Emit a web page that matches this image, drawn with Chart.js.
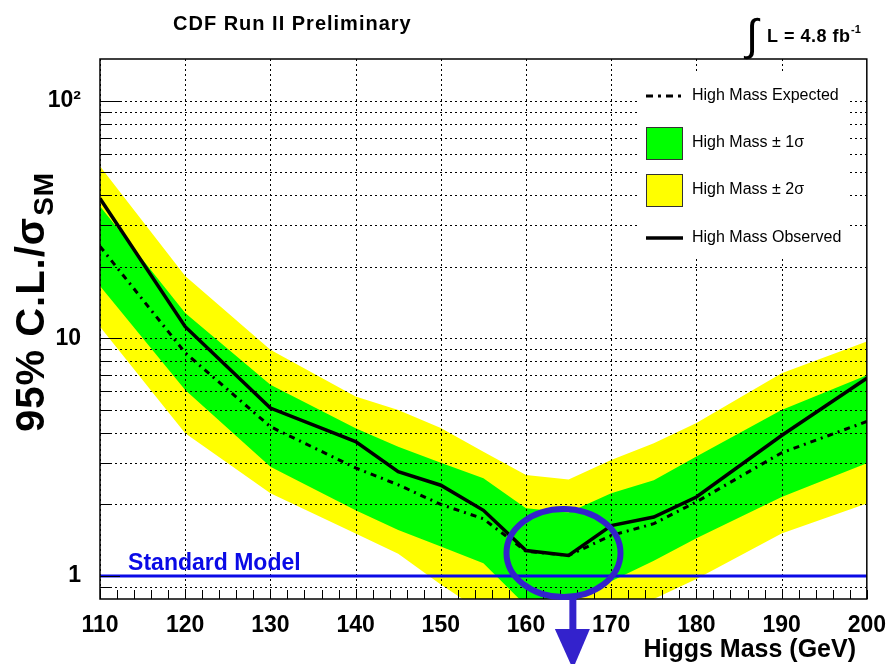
<!DOCTYPE html>
<html>
<head>
<meta charset="utf-8">
<title>CDF Run II Preliminary</title>
<script src="https://cdn.jsdelivr.net/npm/chart.js@4.4.0/dist/chart.umd.min.js"></script>
<style>
    body { margin: 0; background: #ffffff; }
    #wrap { width: 891px; height: 664px; position: relative; }
</style>
</head>
<body>
<div id="wrap"><canvas id="limitChart"></canvas></div>
<script>
// Higgs mass points (GeV) and 95% C.L. limits / sigma_SM
var masses   = [110, 120, 130, 140, 145, 150, 155, 160, 165, 170, 175, 180, 190, 200];
var observed = [38.8, 11.2, 5.09, 3.68, 2.75, 2.41, 1.89, 1.28, 1.22, 1.63, 1.77, 2.15, 3.9, 6.8];
var expected = [24.4, 8.7, 4.25, 2.85, 2.42, 2.0, 1.74, 1.27, 1.22, 1.48, 1.66, 2.05, 3.3, 4.47];
var plus1    = [36, 12.8, 6.38, 4.19, 3.5, 3.0, 2.58, 1.93, 1.85, 2.23, 2.53, 3.18, 5.0, 7.0];
var minus1   = [16.6, 6.07, 2.88, 1.89, 1.56, 1.33, 1.13, 0.75, 0.8, 0.95, 1.16, 1.44, 2.15, 2.98];
var plus2    = [53, 18.3, 8.96, 5.69, 5.0, 4.2, 3.33, 2.66, 2.55, 3.08, 3.62, 4.4, 7.14, 9.71];
var minus2   = [11.2, 3.99, 2.23, 1.51, 1.24, 0.92, 0.7, 0.55, 0.55, 0.65, 0.8, 0.97, 1.51, 2.02];

var smLevel = 1;
var xTicks = [110, 120, 130, 140, 150, 160, 170, 180, 190, 200];
var xMinorStep = 2;
var yGrid = [0.9, 1, 2, 3, 4, 5, 6, 7, 8, 9, 10, 20, 30, 40, 50, 60, 70, 80, 90, 100];
var yLabels = { 1: "1", 10: "10", 100: "10\u00b2" };
var legendText = ["High Mass Expected", "High Mass \u00b1 1\u03c3", "High Mass \u00b1 2\u03c3", "High Mass Observed"];

// circled region around the minimum, in data units
var circleMass = 164.4, circleLimit = 1.25;
var arrowMass = 165.5;

var FONT = "'Liberation Sans', Arial, Helvetica, sans-serif";
var GREEN = "#00ff00", YELLOW = "#ffff00";
var SM_BLUE = "#0a0ae6", MARK_BLUE = "#3322cc";

function pts(arr) {
    return masses.map(function (m, i) { return { x: m, y: arr[i] }; });
}

function band(arr, color, fill, order) {
    return {
        data: pts(arr),
        borderWidth: 0,
        borderColor: "rgba(0,0,0,0)",
        backgroundColor: color,
        pointRadius: 0,
        tension: 0,
        fill: fill,
        order: order
    };
}

var rootDecor = {
    id: "rootDecor",
    // grid goes over the bands but under the curves
    beforeDatasetDraw: function (chart, args) {
        if (args.index !== 1) return;
        var ctx = chart.ctx, a = chart.chartArea;
        var xs = chart.scales.x, ys = chart.scales.y;
        ctx.save();
        ctx.beginPath();
        ctx.rect(a.left, a.top, a.right - a.left, a.bottom - a.top);
        ctx.clip();
        ctx.strokeStyle = "#000";
        ctx.lineWidth = 1;
        ctx.setLineDash([2, 3]);
        xTicks.forEach(function (m) {
            var px = Math.round(xs.getPixelForValue(m)) + 0.5;
            ctx.beginPath(); ctx.moveTo(px, a.top); ctx.lineTo(px, a.bottom); ctx.stroke();
        });
        yGrid.forEach(function (v) {
            var py = Math.round(ys.getPixelForValue(v)) + 0.5;
            ctx.beginPath(); ctx.moveTo(a.left, py); ctx.lineTo(a.right, py); ctx.stroke();
        });
        ctx.restore();
    },
    afterDatasetsDraw: function (chart) {
        var ctx = chart.ctx, a = chart.chartArea;
        var xs = chart.scales.x, ys = chart.scales.y;
        ctx.save();

        // Standard Model label
        ctx.fillStyle = SM_BLUE;
        ctx.font = "bold 23px " + FONT;
        ctx.textBaseline = "alphabetic";
        ctx.textAlign = "left";
        ctx.fillText("Standard Model", xs.getPixelForValue(113.3), ys.getPixelForValue(smLevel) - 6);

        // legend
        var lx = 637, ly = 72;
        ctx.fillStyle = "#fff";
        ctx.fillRect(lx, ly, 213, 185);
        ctx.font = "16px " + FONT;
        ctx.textBaseline = "middle";
        ctx.fillStyle = "#000";
        var rows = [96, 143, 190, 238];
        ctx.strokeStyle = "#000";
        ctx.lineWidth = 3;
        ctx.setLineDash([7, 5, 3, 5]);
        ctx.beginPath(); ctx.moveTo(646, rows[0]); ctx.lineTo(683, rows[0]); ctx.stroke();
        ctx.setLineDash([]);
        ctx.lineWidth = 1;
        ctx.strokeStyle = "#333";
        ctx.fillStyle = GREEN;
        ctx.fillRect(646, 127, 37, 33); ctx.strokeRect(646.5, 127.5, 36, 32);
        ctx.fillStyle = YELLOW;
        ctx.fillRect(646, 174, 37, 33); ctx.strokeRect(646.5, 174.5, 36, 32);
        ctx.strokeStyle = "#000";
        ctx.lineWidth = 3.5;
        ctx.beginPath(); ctx.moveTo(646, rows[3]); ctx.lineTo(683, rows[3]); ctx.stroke();
        ctx.fillStyle = "#000";
        legendText.forEach(function (t, i) { ctx.fillText(t, 692, rows[i]); });

        // frame and inner ticks
        ctx.strokeStyle = "#000";
        ctx.lineWidth = 1.5;
        ctx.strokeRect(a.left, a.top, a.right - a.left, a.bottom - a.top);
        ctx.lineWidth = 1;
        for (var m = xTicks[0]; m <= xTicks[xTicks.length - 1]; m += xMinorStep) {
            var px = Math.round(xs.getPixelForValue(m)) + 0.5;
            ctx.beginPath(); ctx.moveTo(px, a.bottom); ctx.lineTo(px, a.bottom - 9); ctx.stroke();
        }
        yGrid.forEach(function (v) {
            var py = Math.round(ys.getPixelForValue(v)) + 0.5;
            var len = yLabels[v] ? 20 : 11;
            ctx.beginPath(); ctx.moveTo(a.left, py); ctx.lineTo(a.left + len, py); ctx.stroke();
        });
        ctx.restore();
    },
    afterDraw: function (chart) {
        var ctx = chart.ctx;
        var xs = chart.scales.x, ys = chart.scales.y;
        ctx.save();
        ctx.fillStyle = "#000";
        ctx.textAlign = "left";
        ctx.textBaseline = "alphabetic";

        ctx.font = "bold 20px " + FONT;
        ctx.letterSpacing = "1px";
        ctx.fillText("CDF Run II Preliminary", 173, 30);

        ctx.letterSpacing = "0px";
        ctx.font = "44px " + FONT;
        ctx.fillText("\u222b", 746, 50);
        ctx.font = "bold 18px " + FONT;
        ctx.letterSpacing = "0.5px";
        ctx.fillText("L = 4.8 fb", 767, 42);
        ctx.font = "bold 11px " + FONT;
        ctx.letterSpacing = "0px";
        ctx.fillText("-1", 851, 33);

        // axis titles
        ctx.font = "bold 25px " + FONT;
        ctx.textAlign = "right";
        ctx.fillText("Higgs Mass (GeV)", 856, 657);

        ctx.save();
        ctx.translate(44, 432);
        ctx.rotate(-Math.PI / 2);
        ctx.textAlign = "left";
        ctx.font = "bold 40px " + FONT;
        ctx.letterSpacing = "1px";
        var main = "95% C.L./\u03c3";
        ctx.fillText(main, 0, 0);
        var w = ctx.measureText(main).width;
        ctx.font = "bold 28px " + FONT;
        ctx.fillText("SM", w + 1, 9);
        ctx.restore();

        // circle and arrow marking the minimum
        var cx = xs.getPixelForValue(circleMass), cy = ys.getPixelForValue(circleLimit);
        ctx.strokeStyle = MARK_BLUE;
        ctx.lineWidth = 6;
        ctx.beginPath();
        ctx.ellipse(cx, cy, 57, 44, 0, 0, Math.PI * 2);
        ctx.stroke();
        var ax = xs.getPixelForValue(arrowMass);
        ctx.fillStyle = MARK_BLUE;
        ctx.fillRect(ax - 3.5, cy + 42, 7, 632 - (cy + 42));
        ctx.beginPath();
        ctx.moveTo(ax - 18, 629);
        ctx.lineTo(ax + 17, 629);
        ctx.lineTo(ax, 669);
        ctx.closePath();
        ctx.fill();
        ctx.restore();
    }
};

var datasets = [
    { label: "High Mass Observed", data: pts(observed), borderColor: "#000", borderWidth: 3.5,
      pointRadius: 0, tension: 0, fill: false, order: 0 },
    { label: "High Mass Expected", data: pts(expected), borderColor: "#000", borderWidth: 3,
      borderDash: [6, 5, 2, 5], pointRadius: 0, tension: 0, fill: false, order: 2 },
    { label: "Standard Model", data: [{ x: xTicks[0], y: smLevel }, { x: xTicks[xTicks.length - 1], y: smLevel }],
      borderColor: SM_BLUE, borderWidth: 3, pointRadius: 0, fill: false, order: 1 },
    band(plus1, GREEN, "+1", 3),
    band(minus1, GREEN, false, 4),
    band(plus2, YELLOW, "+1", 5),
    band(minus2, YELLOW, false, 6)
];

var ctx = document.getElementById("limitChart").getContext("2d");
var limitChart = new Chart(ctx, {
    type: "line",
    data: { datasets: datasets },
    options: {
        responsive: true,
        maintainAspectRatio: false,
        animation: false,
        layout: { padding: { top: 59, right: 21, left: 0, bottom: 0 } },
        plugins: { legend: { display: false }, tooltip: { enabled: false } },
        scales: {
            x: {
                type: "linear",
                min: 110,
                max: 200,
                grid: { display: false },
                border: { display: false },
                afterBuildTicks: function (scale) {
                    scale.ticks = xTicks.map(function (v) { return { value: v }; });
                },
                afterFit: function (scale) { scale.height = 65; },
                ticks: {
                    autoSkip: false,
                    maxRotation: 0,
                    padding: 5,
                    color: "#000",
                    font: { family: FONT, size: 23, weight: "bold" },
                    callback: function (v) { return String(v); }
                }
            },
            y: {
                type: "logarithmic",
                min: 0.8,
                max: 150,
                grid: { display: false },
                border: { display: false },
                afterBuildTicks: function (scale) {
                    scale.ticks = yGrid.map(function (v) { return { value: v }; });
                },
                afterFit: function (scale) { scale.width = 100; },
                ticks: {
                    autoSkip: false,
                    padding: 11,
                    color: "#000",
                    font: { family: FONT, size: 23, weight: "bold" },
                    callback: function (v) { return yLabels[v] || ""; }
                }
            }
        }
    },
    plugins: [rootDecor]
});
</script>
</body>
</html>
